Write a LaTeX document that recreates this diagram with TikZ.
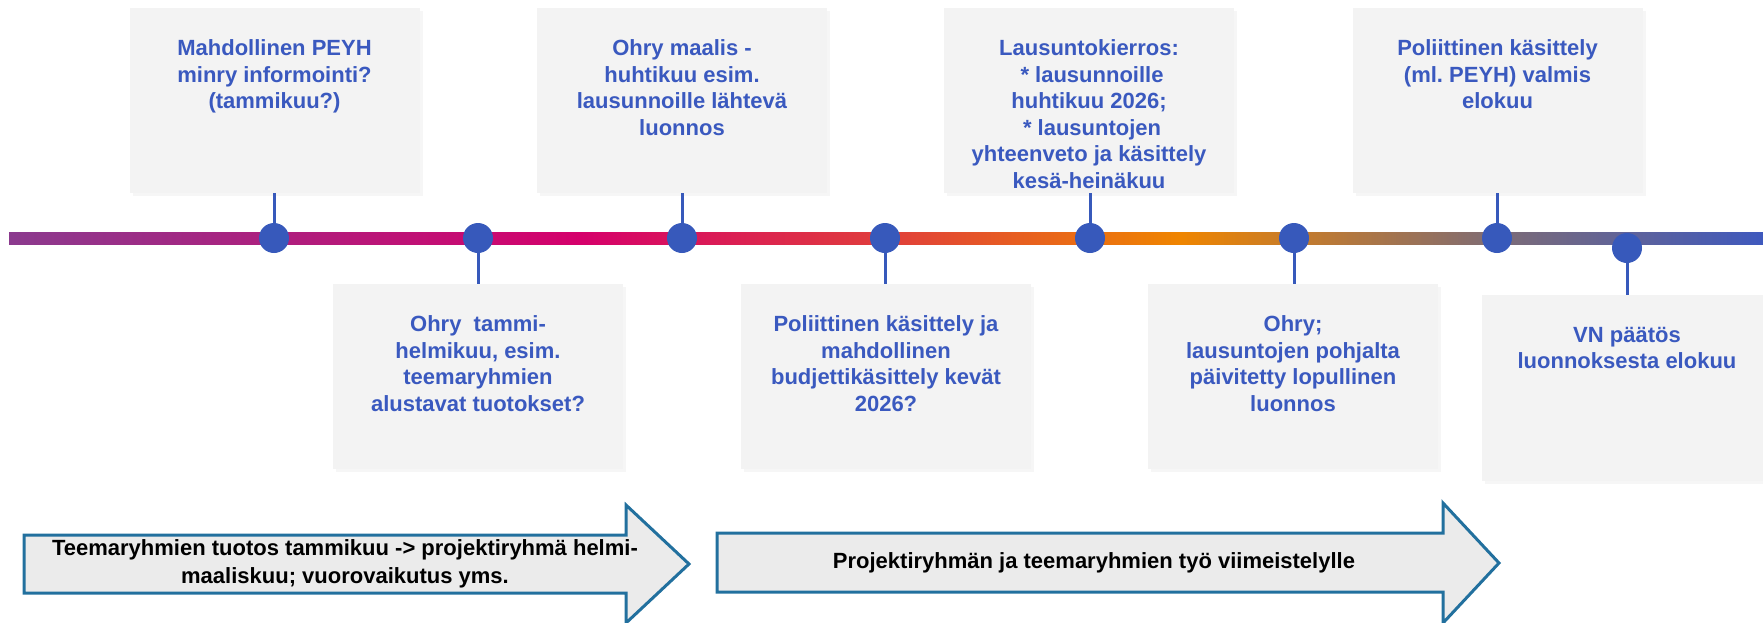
\documentclass[tikz,border=0pt]{standalone}
\usepackage{fontspec}
\setmainfont{Liberation Sans}
\usetikzlibrary{shadows}
\frenchspacing
\definecolor{tblue}{HTML}{3A59BF}
\definecolor{dotblue}{HTML}{3759BB}
\definecolor{boxfill}{HTML}{F3F3F3}
\definecolor{arrowline}{HTML}{22709E}
\definecolor{arrowfill}{HTML}{EBEBEB}
\definecolor{cA}{HTML}{8B3A8E}
\definecolor{cB}{HTML}{D5006B}
\definecolor{cC}{HTML}{E03D3C}
\definecolor{cD}{HTML}{EF8500}
\definecolor{cE}{HTML}{7C6B77}
\definecolor{cF}{HTML}{3F59BE}
\begin{document}
\begin{tikzpicture}[x=0.5pt,y=-0.5pt,
  card/.style={fill=boxfill, draw=none, inner sep=0pt, minimum width=145pt, minimum height=92.5pt,
    drop shadow={opacity=0.07, shadow xshift=1.5pt, shadow yshift=-1.5pt}},
  cardtext/.style={anchor=north, inner sep=0pt, align=center, text=tblue,
    font=\bfseries\fontsize{11pt}{13.25pt}\selectfont},
  dot/.style={circle, fill=dotblue, minimum size=15pt, inner sep=0pt},
  stem/.style={draw=dotblue, line width=1.5pt},
  bigarrow/.style={draw=arrowline, fill=arrowfill, line width=1.5pt, line join=miter},
  arrowtext/.style={inner sep=0pt, align=center, text=black,
    font=\bfseries\fontsize{11pt}{14pt}\selectfont}]
\useasboundingbox (0,0) rectangle (1763,622);
\begin{scope}
\clip (0,0) rectangle (1763,622);
% timeline
\shade[left color=cA, right color=cB] (9,232) rectangle (580.5,244);
\shade[left color=cB, right color=cC] (580,232) rectangle (880.5,244);
\shade[left color=cC, right color=cD] (880,232) rectangle (1180.5,244);
\shade[left color=cD, right color=cE] (1180,232) rectangle (1500.5,244);
\shade[left color=cE, right color=cF] (1500,232) rectangle (1763,244);

% boxes
\node[card] (b1) at (274.5,100.5) {};
\node[card] (b3) at (682,100.5) {};
\node[card] (b5) at (1089,100.5) {};
\node[card] (b7) at (1497.5,100.5) {};
\node[card] (b2) at (478,376.5) {};
\node[card] (b4) at (886,376.5) {};
\node[card] (b6) at (1293,376.5) {};
\node[card, minimum height=93pt] (b8) at (1627,388) {};

% dots
\coordinate (p1) at (274,238);
\coordinate (p2) at (478,238);
\coordinate (p3) at (682,238);
\coordinate (p4) at (885,238);
\coordinate (p5) at (1090,238);
\coordinate (p6) at (1294,238);
\coordinate (p7) at (1497,238);
\coordinate (p8) at (1627,248);

\draw[stem] (p1) -- (p1 |- b1.south);
\draw[stem] (p3) -- (p3 |- b3.south);
\draw[stem] (p5) -- (p5 |- b5.south);
\draw[stem] (p7) -- (p7 |- b7.south);
\draw[stem] (p2) -- (p2 |- b2.north);
\draw[stem] (p4) -- (p4 |- b4.north);
\draw[stem] (p6) -- (p6 |- b6.north);
\draw[stem] (p8) -- (p8 |- b8.north);

\node[dot] (d1) at (p1) {};
\node[dot] (d2) at (p2) {};
\node[dot] (d3) at (p3) {};
\node[dot] (d4) at (p4) {};
\node[dot] (d5) at (p5) {};
\node[dot] (d6) at (p6) {};
\node[dot] (d7) at (p7) {};
\node[dot] (d8) at (p8) {};

% box texts
\node[cardtext] (t1) at ([yshift=-16pt]b1.north) {Mahdollinen PEYH\\minry informointi?\\(tammikuu?)};
\node[cardtext] (t3) at ([yshift=-16pt]b3.north) {Ohry maalis -\\huhtikuu esim.\\lausunnoille lähtevä\\luonnos};
\node[cardtext] (t5) at ([yshift=-16pt]b5.north) {Lausuntokierros:\\\ * lausunnoille\\huhtikuu 2026;\\\ * lausuntojen\\yhteenveto ja käsittely\\kesä-heinäkuu};
\node[cardtext] (t7) at ([yshift=-16pt]b7.north) {Poliittinen käsittely\\(ml. PEYH) valmis\\elokuu};
\node[cardtext] (t2) at ([yshift=-16pt]b2.north) {Ohry~~tammi-\\helmikuu, esim.\\teemaryhmien\\alustavat tuotokset?};
\node[cardtext] (t4) at ([yshift=-16pt]b4.north) {Poliittinen käsittely ja\\mahdollinen\\budjettikäsittely kevät\\2026?};
\node[cardtext] (t6) at ([yshift=-16pt]b6.north) {Ohry;\\lausuntojen pohjalta\\päivitetty lopullinen\\luonnos};
\node[cardtext] (t8) at ([yshift=-16pt]b8.north) {VN päätös\\luonnoksesta elokuu};

% bottom arrows
\draw[bigarrow] (24,535) -- (626,535) -- (626,505) -- (689,564) -- (626,623) -- (626,593) -- (24,593) -- cycle;
\node[arrowtext] (a1) at (345,564) {Teemaryhmien tuotos tammikuu -> projektiryhmä helmi-\\maaliskuu; vuorovaikutus yms.};
\draw[bigarrow] (717,533) -- (1443,533) -- (1443,503) -- (1499,563) -- (1443,623) -- (1443,592) -- (717,592) -- cycle;
\node[arrowtext] (a2) at (1094,563) {Projektiryhmän ja teemaryhmien työ viimeistelylle};
\end{scope}
\end{tikzpicture}
\end{document}
